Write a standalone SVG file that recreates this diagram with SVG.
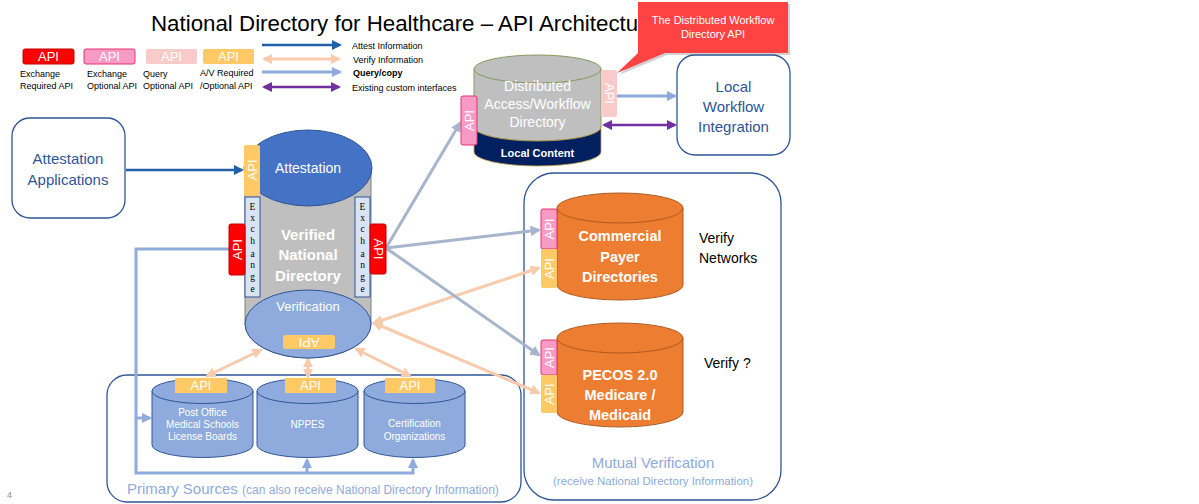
<svg xmlns="http://www.w3.org/2000/svg" width="1199" height="504" viewBox="0 0 1199 504">
<style>
text{font-family:"Liberation Sans",Arial,sans-serif}
.lbl{font-size:9px;fill:#000}
.api{font-size:13px;fill:#fff;text-anchor:middle;dominant-baseline:central}
.wt{fill:#fff;text-anchor:middle}
.bt{fill:#2f5597;text-anchor:middle;font-size:15px}
.box{fill:#fff;stroke:#2f5597;stroke-width:1.3}
.grp{fill:none;stroke:#2f5597;stroke-width:1.3}
.red{fill:#ff0000;stroke:#c00000;stroke-width:1}
.pink{fill:#f79ac6;stroke:#e8336a;stroke-width:1}
.lpink{fill:#f9caca}
.yel{fill:#ffc966}
.exch{fill:#dae3f3;stroke:#2f5597;stroke-width:1}
.exl{font-family:"Liberation Serif",serif;font-size:9.5px;fill:#000;text-anchor:middle}
.pcyl{fill:#8faadc;stroke:#2f5597;stroke-width:1}
.ocyl{fill:#ed7d31;stroke:#ae5a21;stroke-width:1}
.cdark{stroke:#2060a8;stroke-width:2.5;fill:none}
.cpeach{stroke:#f8cbad;stroke-width:3;fill:none}
.clight{stroke:#8faadc;stroke-width:3;fill:none}
.cpurp{stroke:#7030a0;stroke-width:2.5;fill:none}
.cgray{stroke:#a6b5cc;stroke-width:3;fill:none}
</style>
<defs>
<marker id="mDark" viewBox="0 0 10 10" refX="8" refY="5" markerWidth="4" markerHeight="4" orient="auto-start-reverse"><path d="M0,0 L10,5 L0,10 z" fill="#2060a8"/></marker>
<marker id="mPeach" viewBox="0 0 10 10" refX="8" refY="5" markerWidth="3.5" markerHeight="3.5" orient="auto-start-reverse"><path d="M0,0 L10,5 L0,10 z" fill="#f8cbad"/></marker>
<marker id="mLight" viewBox="0 0 10 10" refX="8" refY="5" markerWidth="3.5" markerHeight="3.5" orient="auto-start-reverse"><path d="M0,0 L10,5 L0,10 z" fill="#8faadc"/></marker>
<marker id="mPurp" viewBox="0 0 10 10" refX="8" refY="5" markerWidth="4" markerHeight="4" orient="auto-start-reverse"><path d="M0,0 L10,5 L0,10 z" fill="#7030a0"/></marker>
<marker id="mGray" viewBox="0 0 10 10" refX="8" refY="5" markerWidth="3.5" markerHeight="3.5" orient="auto-start-reverse"><path d="M0,0 L10,5 L0,10 z" fill="#a6b5cc"/></marker>
</defs>
<rect width="1199" height="504" fill="#fff"/>

<g id="title">
<text x="151" y="31" font-size="22" textLength="507" lengthAdjust="spacingAndGlyphs" fill="#000">National Directory for Healthcare – API Architecture</text>
</g>

<g id="legend">
<rect class="red" x="23" y="49" width="51" height="15" rx="2"/><text class="api" x="48.5" y="56.5">API</text>
<rect class="pink" x="84" y="49" width="51" height="15" rx="2"/><text class="api" x="109.5" y="56.5">API</text>
<rect class="lpink" x="146" y="49" width="51" height="15" rx="2"/><text class="api" x="171.5" y="56.5">API</text>
<rect class="yel" x="203" y="49" width="51" height="15" rx="2"/><text class="api" x="228.5" y="56.5">API</text>
<text class="lbl" x="20" y="77">Exchange</text><text class="lbl" x="20" y="89">Required API</text>
<text class="lbl" x="87" y="77">Exchange</text><text class="lbl" x="87" y="89">Optional API</text>
<text class="lbl" x="143" y="77">Query</text><text class="lbl" x="143" y="89">Optional API</text>
<text class="lbl" x="200" y="76">A/V Required</text><text class="lbl" x="200" y="89">/Optional API</text>
<line class="cdark" x1="262" y1="45" x2="340" y2="45" marker-end="url(#mDark)"/>
<line class="cpeach" x1="264" y1="59" x2="339" y2="59" marker-start="url(#mPeach)" marker-end="url(#mPeach)"/>
<line class="clight" x1="262" y1="72" x2="340" y2="72" marker-end="url(#mLight)"/>
<line class="cpurp" x1="264" y1="87" x2="339" y2="87" marker-start="url(#mPurp)" marker-end="url(#mPurp)"/>
<text class="lbl" x="352" y="49">Attest  Information</text>
<text class="lbl" x="353" y="63">Verify Information</text>
<text class="lbl" x="353" y="76" font-weight="bold">Query/copy</text>
<text class="lbl" x="352" y="91">Existing custom interfaces</text>
</g>

<g id="primary-sources">
<rect class="grp" x="107" y="375" width="414" height="127" rx="20"/>
<text x="127" y="494" font-size="15" fill="#8faadc">Primary Sources <tspan font-size="12">(can also receive National Directory Information)</tspan></text>
</g>

<g id="mutual-verification">
<rect class="grp" x="524" y="173" width="257" height="327" rx="30"/>
<text x="653" y="468" font-size="15" fill="#8faadc" text-anchor="middle">Mutual Verification</text>
<text x="653" y="485" font-size="11.5" fill="#8faadc" text-anchor="middle">(receive National Directory Information)</text>
</g>

<g id="connectors">
<line class="cdark" x1="126" y1="170" x2="242" y2="170" marker-end="url(#mDark)"/>
<polyline class="clight" points="229,249 136,249 136,473 413,473 413,460" marker-end="url(#mLight)"/>
<line class="clight" x1="307" y1="473" x2="307" y2="460" marker-end="url(#mLight)"/>
<line class="clight" x1="136" y1="418" x2="150" y2="418" marker-end="url(#mLight)"/>
<line class="cpeach" x1="207" y1="376" x2="261" y2="350" marker-start="url(#mPeach)" marker-end="url(#mPeach)"/>
<line class="cpeach" x1="308" y1="377" x2="308" y2="359" marker-start="url(#mPeach)" marker-end="url(#mPeach)"/>
<line class="cpeach" x1="410" y1="376" x2="356" y2="349" marker-start="url(#mPeach)" marker-end="url(#mPeach)"/>
<line class="cpeach" x1="539" y1="268" x2="374" y2="323" marker-start="url(#mPeach)" marker-end="url(#mPeach)"/>
<line class="cpeach" x1="539" y1="393" x2="374" y2="323" marker-start="url(#mPeach)" marker-end="url(#mPeach)"/>
<line class="cgray" x1="386" y1="248" x2="460" y2="123" marker-end="url(#mGray)"/>
<line class="cgray" x1="386" y1="248" x2="539" y2="230" marker-end="url(#mGray)"/>
<line class="cgray" x1="386" y1="248" x2="539" y2="355" marker-end="url(#mGray)"/>
<line class="clight" x1="617" y1="96" x2="675" y2="96" marker-end="url(#mLight)"/>
<line class="cpurp" x1="604" y1="125" x2="675" y2="125" marker-start="url(#mPurp)" marker-end="url(#mPurp)"/>
</g>

<g id="attestation-applications">
<rect class="box" x="12" y="118" width="113" height="100" rx="18"/>
<text class="bt" x="68" y="164">Attestation</text>
<text class="bt" x="68" y="185">Applications</text>
</g>

<g id="national-directory">
<path d="M245,168 V324 A63,34 0 0 0 371,324 V168" fill="#bfbfbf" stroke="#7f7f7f" stroke-width="1"/>
<ellipse cx="308" cy="324" rx="63" ry="34" fill="#8faadc" stroke="#2f5597" stroke-width="1"/>
<ellipse cx="308" cy="168" rx="64" ry="38" fill="#4472c4" stroke="#2f5597" stroke-width="1"/>
<text class="wt" x="308" y="173" font-size="14">Attestation</text>
<text class="wt" x="308" y="240" font-size="15" font-weight="bold" fill="#f2f2f2">Verified</text>
<text class="wt" x="308" y="260" font-size="15" font-weight="bold" fill="#f2f2f2">National</text>
<text class="wt" x="308" y="281" font-size="15" font-weight="bold" fill="#f2f2f2">Directory</text>
<text class="wt" x="308" y="311" font-size="13">Verification</text>
<rect class="yel" x="244" y="145" width="16" height="51" rx="2"/>
<text class="api" transform="translate(252,170) rotate(-90)">API</text>
<rect class="exch" x="245" y="197" width="15" height="100"/>
<rect class="exch" x="355" y="197" width="15" height="100"/>
<text class="exl" x="252.5" y="210">E</text><text class="exl" x="252.5" y="221">x</text><text class="exl" x="252.5" y="232">c</text><text class="exl" x="252.5" y="244">h</text><text class="exl" x="252.5" y="257">a</text><text class="exl" x="252.5" y="268">n</text><text class="exl" x="252.5" y="280">g</text><text class="exl" x="252.5" y="292">e</text>
<text class="exl" x="362.5" y="210">E</text><text class="exl" x="362.5" y="221">x</text><text class="exl" x="362.5" y="232">c</text><text class="exl" x="362.5" y="244">h</text><text class="exl" x="362.5" y="257">a</text><text class="exl" x="362.5" y="268">n</text><text class="exl" x="362.5" y="280">g</text><text class="exl" x="362.5" y="292">e</text>
<rect class="red" x="229" y="224" width="16" height="51" rx="2"/>
<text class="api" transform="translate(237,249.5) rotate(-90)">API</text>
<rect class="red" x="370" y="224" width="16" height="50" rx="2"/>
<text class="api" transform="translate(378,249) rotate(90)">API</text>
<rect class="yel" x="283" y="335" width="52" height="14" rx="2"/>
<text class="api" transform="translate(309,342) rotate(180)">API</text>
</g>

<g id="distributed-directory">
<path d="M474,69 V127 A63.5,14 0 0 0 601,127 V69" fill="#bfbfbf" stroke="#8a9a5b" stroke-width="1"/>
<path d="M474,127 A63.5,14 0 0 0 601,127 V152 A63.5,14 0 0 1 474,152 Z" fill="#002060" stroke="#c9a34a" stroke-width="0.8"/>
<ellipse cx="537.5" cy="69" rx="63.5" ry="14" fill="#bfbfbf" stroke="#8a9a5b" stroke-width="1"/>
<text class="wt" x="537.5" y="91" font-size="14" fill="#f2f2f2">Distributed</text>
<text class="wt" x="537.5" y="109" font-size="14" fill="#f2f2f2">Access/Workflow</text>
<text class="wt" x="537.5" y="127" font-size="14" fill="#f2f2f2">Directory</text>
<text class="wt" x="537.5" y="157" font-size="11" font-weight="bold">Local Content</text>
<rect class="pink" x="461" y="96" width="16" height="49" rx="2"/>
<text class="api" transform="translate(469,120.5) rotate(-90)">API</text>
<rect class="lpink" x="601" y="70" width="16" height="47" rx="2"/>
<text class="api" transform="translate(609,93.5) rotate(90)">API</text>
</g>

<g id="callout">
<path d="M640,4 H790 V55 H667 L619,75 L640,55 Z" fill="#000" opacity="0.18"/>
<path d="M638,2 H788 V53 H665 L617,73 L638,53 Z" fill="#ff4343"/>
<text class="wt" x="713" y="24" font-size="11">The Distributed Workflow</text>
<text class="wt" x="713" y="38" font-size="11">Directory API</text>
</g>

<g id="local-workflow">
<rect class="box" x="677" y="55" width="113" height="100" rx="18"/>
<text class="bt" x="733.5" y="92">Local</text>
<text class="bt" x="733.5" y="112">Workflow</text>
<text class="bt" x="733.5" y="132">Integration</text>
</g>

<g id="post-office">
<path class="pcyl" d="M152,391 V445 A50.5,12.5 0 0 0 253,445 V391"/>
<ellipse class="pcyl" cx="202.5" cy="391" rx="50.5" ry="12.5"/>
<rect class="yel" x="175" y="378" width="52" height="15"/>
<text class="api" x="201" y="385.5" font-size="14">API</text>
<text class="wt" x="202.5" y="416" font-size="10">Post Office</text>
<text class="wt" x="202.5" y="428" font-size="10">Medical Schools</text>
<text class="wt" x="202.5" y="440" font-size="10">License Boards</text>
</g>

<g id="nppes">
<path class="pcyl" d="M257,391 V445 A50.5,12.5 0 0 0 358,445 V391"/>
<ellipse class="pcyl" cx="307.5" cy="391" rx="50.5" ry="12.5"/>
<rect class="yel" x="285" y="378" width="51" height="15"/>
<text class="api" x="310.5" y="385.5" font-size="14">API</text>
<text class="wt" x="307.5" y="428" font-size="10">NPPES</text>
</g>

<g id="certification">
<path class="pcyl" d="M364,391 V445 A50.5,12.5 0 0 0 465,445 V391"/>
<ellipse class="pcyl" cx="414.5" cy="391" rx="50.5" ry="12.5"/>
<rect class="yel" x="385" y="378" width="50" height="15"/>
<text class="api" x="410" y="385.5" font-size="14">API</text>
<text class="wt" x="414.5" y="427" font-size="10">Certification</text>
<text class="wt" x="414.5" y="440" font-size="10">Organizations</text>
</g>

<g id="commercial-payer">
<path class="ocyl" d="M557,208 V285 A63,15 0 0 0 683,285 V208"/>
<ellipse class="ocyl" cx="620" cy="208" rx="63" ry="15"/>
<text class="wt" x="620" y="241" font-size="14.5" font-weight="bold">Commercial</text>
<text class="wt" x="620" y="262" font-size="14.5" font-weight="bold">Payer</text>
<text class="wt" x="620" y="282" font-size="14.5" font-weight="bold">Directories</text>
<rect class="pink" x="541" y="209" width="16" height="40" rx="2"/>
<text class="api" transform="translate(549,229) rotate(-90)">API</text>
<rect class="yel" x="541" y="249" width="16" height="39" rx="2"/>
<text class="api" transform="translate(549,268.5) rotate(-90)">API</text>
<text x="699" y="243" font-size="14" fill="#000">Verify</text>
<text x="699" y="263" font-size="14" fill="#000">Networks</text>
</g>

<g id="pecos">
<path class="ocyl" d="M557,338 V412 A63,15 0 0 0 683,412 V338"/>
<ellipse class="ocyl" cx="620" cy="338" rx="63" ry="15"/>
<text class="wt" x="620" y="380" font-size="14.5" font-weight="bold">PECOS 2.0</text>
<text class="wt" x="620" y="400" font-size="14.5" font-weight="bold">Medicare /</text>
<text class="wt" x="620" y="420" font-size="14.5" font-weight="bold">Medicaid</text>
<rect class="pink" x="541" y="340" width="16" height="35" rx="2"/>
<text class="api" transform="translate(549,357.5) rotate(-90)">API</text>
<rect class="yel" x="541" y="375" width="16" height="38" rx="2"/>
<text class="api" transform="translate(549,394) rotate(-90)">API</text>
<text x="704" y="368" font-size="14" fill="#000">Verify ?</text>
</g>

<text x="7" y="498" font-size="9" fill="#8c8c8c">4</text>
</svg>
